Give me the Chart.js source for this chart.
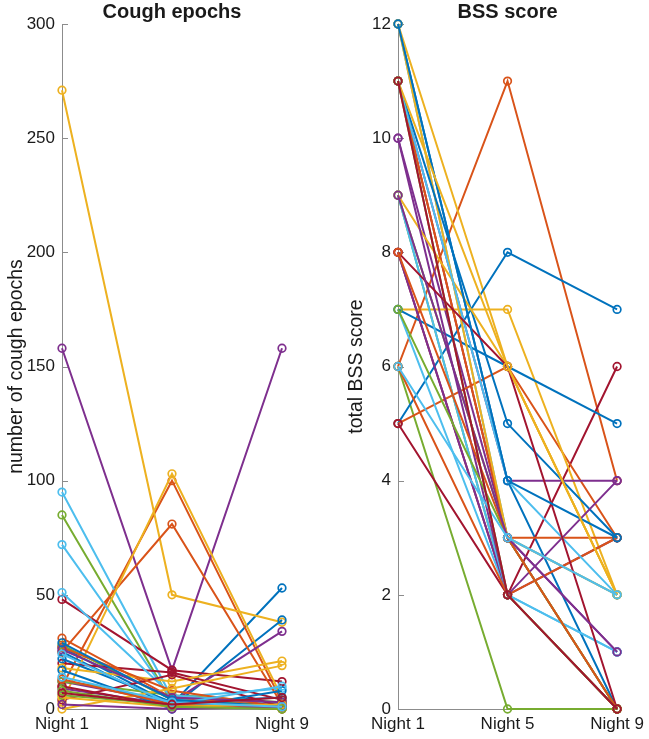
<!DOCTYPE html>
<html>
<head>
<meta charset="utf-8">
<script src="https://cdn.jsdelivr.net/npm/chart.js@4/dist/chart.umd.min.js"></script>
<style>
  body { margin: 0; background: #fff; }
  #wrap { position: relative; width: 649px; height: 739px; }
  #coughChart { position: absolute; left: 0; top: 0; }
  #bssChart { position: absolute; left: 320px; top: 0; }
</style>
</head>
<body>
<div id="wrap">
  <canvas id="coughChart" width="320" height="739"></canvas>
  <canvas id="bssChart" width="329" height="739"></canvas>
</div>
<script>
// nights on the x axis
const nights = ['Night 1', 'Night 5', 'Night 9']

// one row per patient: [night 1, night 5, night 9]
const coughEpochs = [
  [27, 2, 53], [10, 100, 3], [271, 50, 38], [158, 17, 158], [85, 3, 1], [95, 5, 9], [48, 17, 12],
  [25, 1, 39], [25, 81, 2], [3, 103, 5], [12, 3, 34], [28, 4, 2], [72, 4, 3], [20, 16, 4],
  [22, 3, 5], [31, 5, 2], [18, 12, 21], [9, 2, 1], [12, 6, 3], [51, 6, 2], [4, 15, 1],
  [17, 0, 8], [27, 8, 1], [0, 9, 19], [26, 5, 3], [6, 2, 0], [24, 2, 10], [10, 1, 2],
  [29, 4, 1], [13, 2, 0], [5, 1, 2], [2, 0, 1], [8, 1, 0], [14, 3, 1], [7, 2, 5]
]

const bssScore = [
  [12, 4, 0], [6, 11, 4], [12, 6, 2], [10, 3, 1], [6, 0, 0], [12, 3, 2], [8, 2, 6],
  [5, 8, 7], [5, 6, 3], [7, 7, 2], [11, 4, 4], [9, 2, 0], [7, 2, 1], [11, 3, 0],
  [7, 6, 5], [11, 3, 3], [12, 3, 2], [8, 2, 3], [9, 3, 0], [9, 2, 1], [5, 2, 0],
  [11, 5, 3], [6, 2, 3], [9, 6, 2], [10, 2, 4], [7, 3, 0], [11, 4, 2], [8, 6, 0],
  [12, 4, 3], [8, 3, 0], [11, 6, 2], [9, 3, 1], [11, 2, 0], [6, 3, 2], [11, 2, 0]
]

const coughTicks = { min: 0, max: 300, step: 50 }
const bssTicks = { min: 0, max: 12, step: 2 }

// matlab default colour order
const lineColors = ['#0072BD', '#D95319', '#EDB120', '#7E2F8E', '#77AC30', '#4DBEEE', '#A2142F']

const axisGrey = '#8c8c8c'
const textColor = '#1a1a1a'
const fontFamily = '"Liberation Sans", Arial, Helvetica, sans-serif'

// small ticks pointing into the plot, like matlab
const innerTicks = {
    id: 'innerTicks',
    beforeDatasetsDraw(chart){
        const ctx = chart.ctx
        const x = chart.scales.x
        const y = chart.scales.y
        ctx.save()
        ctx.strokeStyle = axisGrey
        ctx.lineWidth = 1
        y.ticks.forEach(t=>{
            const py = Math.round(y.getPixelForValue(t.value)) + 0.5
            ctx.beginPath()
            ctx.moveTo(x.left, py)
            ctx.lineTo(x.left + 6, py)
            ctx.stroke()
        })
        ctx.restore()
    }
}

// title centred over the plot box, not the whole canvas
const boxTitle = {
    id: 'boxTitle',
    afterDraw(chart, args, opts){
        const ctx = chart.ctx
        const area = chart.chartArea
        ctx.save()
        ctx.fillStyle = textColor
        ctx.font = 'bold 20px ' + fontFamily
        ctx.textAlign = 'center'
        ctx.textBaseline = 'middle'
        ctx.fillText(opts.text, (area.left + area.right) / 2, 12)
        ctx.restore()
    }
}

function makeChart(id, rows, title, yTitle, ticks, yWidth, rightPad, titlePad){
    const datasets = rows.map((row, i)=>{
        const c = lineColors[i % lineColors.length]
        return {
            data: row,
            borderColor: c,
            backgroundColor: 'rgba(0,0,0,0)',
            pointBorderColor: c,
            pointBackgroundColor: 'rgba(0,0,0,0)',
            pointRadius: 3.8,
            pointBorderWidth: 1.7,
            borderWidth: 2,
            tension: 0,
            clip: false,
            order: -i
        }
    })
    return new Chart(document.getElementById(id), {
        type: 'line',
        data: { labels: nights, datasets: datasets },
        plugins: [innerTicks, boxTitle],
        options: {
            responsive: false,
            animation: false,
            devicePixelRatio: 1,
            layout: { padding: { left: 0, right: rightPad, top: 24, bottom: 0 } },
            plugins: {
                legend: { display: false },
                tooltip: { enabled: false },
                title: { display: false },
                boxTitle: { text: title }
            },
            scales: {
                x: {
                    type: 'category',
                    offset: false,
                    grid: { display: false, drawTicks: false },
                    border: { display: true, color: axisGrey, width: 1 },
                    ticks: {
                        color: textColor,
                        padding: 5,
                        maxRotation: 0,
                        font: { family: fontFamily, size: 17 }
                    },
                    afterFit(scale){ scale.height = 30 }
                },
                y: {
                    min: ticks.min,
                    max: ticks.max,
                    grid: { display: false, drawTicks: false },
                    border: { display: true, color: axisGrey, width: 1 },
                    ticks: {
                        stepSize: ticks.step,
                        color: textColor,
                        padding: 7,
                        font: { family: fontFamily, size: 17 }
                    },
                    title: {
                        display: true,
                        text: yTitle,
                        color: textColor,
                        font: { family: fontFamily, size: 19.5 },
                        padding: { top: titlePad, bottom: 0 }
                    },
                    afterFit(scale){ scale.width = yWidth }
                }
            }
        }
    })
}

const coughChart = makeChart('coughChart', coughEpochs, 'Cough epochs', 'number of cough epochs', coughTicks, 62, 38, 5)
const bssChart = makeChart('bssChart', bssScore, 'BSS score', 'total BSS score', bssTicks, 78, 31, 25)
</script>
</body>
</html>
